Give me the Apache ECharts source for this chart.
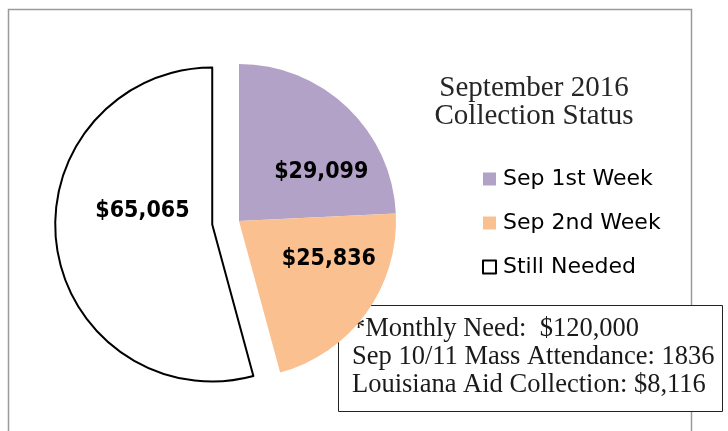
<!DOCTYPE html>
<html>
<head>
<meta charset="utf-8">
<script src="https://cdn.jsdelivr.net/npm/echarts@6/dist/echarts.min.js"></script>
<style>
  html, body { margin: 0; padding: 0; background: #fff; }
  #chart { width: 728px; height: 431px; }
</style>
</head>
<body>
<div id="chart"></div>
<script>
// chart values
const categories = ['Sep 1st Week', 'Sep 2nd Week', 'Still Needed'];
const amounts = [29099, 25836, 65065];
const titleLines = ['September 2016', 'Collection Status'];
const noteLines = [
    '*Monthly Need:  $120,000',
    'Sep 10/11 Mass Attendance: 1836',
    'Louisiana Aid Collection: $8,116'
];

const sliceColors = ['#B3A2C7', '#FAC090', '#FFFFFF'];
// nudges to put labels where Excel put them
const labelNudge = [[26, 10], [24, -10], [11, -24]];

const chart = echarts.init(document.getElementById('chart'));

const pieData = categories.map((name, i) => {
    const item = {
        name: name,
        value: amounts[i],
        itemStyle: { color: sliceColors[i] },
        label: { offset: labelNudge[i] },
        select: { label: { offset: labelNudge[i] } }
    };
    if (i === 2) {
        item.selected = true;
        item.itemStyle.borderColor = '#000';
        item.itemStyle.borderWidth = 2;
    }
    return item;
});

const option = {
    animation: false,
    backgroundColor: '#fff',
    title: {
        text: titleLines.join('\n'),
        left: 529,
        top: 69,
        textAlign: 'center',
        textStyle: {
            fontFamily: '"Liberation Serif", "Times New Roman", serif',
            fontSize: 29,
            fontWeight: 'normal',
            color: '#262626',
            lineHeight: 28
        }
    },
    legend: {
        orient: 'vertical',
        left: 477,
        top: 163,
        itemWidth: 13,
        itemHeight: 13,
        itemGap: 22,
        icon: 'rect',
        selectedMode: false,
        data: categories.map((name, i) => ({
            name: name,
            itemStyle: i === 2
                ? { color: '#fff', borderColor: '#000', borderWidth: 2 }
                : { color: sliceColors[i], borderWidth: 0 }
        })),
        textStyle: {
            fontFamily: '"DejaVu Sans", sans-serif',
            fontSize: 22,
            color: '#000',
            padding: [0, 0, 0, 2]
        }
    },
    series: [{
        type: 'pie',
        center: [239, 221],
        radius: 157,
        startAngle: 90,
        clockwise: true,
        selectedMode: 'single',
        selectedOffset: 27,
        silent: true,
        label: {
            show: true,
            position: 'inside',
            formatter: p => '$' + p.value.toLocaleString('en-US'),
            fontFamily: '"DejaVu Sans Condensed", "Liberation Sans Narrow", sans-serif',
            fontWeight: 'bold',
            fontSize: 23,
            color: '#000'
        },
        labelLine: { show: false },
        emphasis: { disabled: true },
        data: pieData
    }],
    graphic: [
        {
            type: 'rect',
            z: 0,
            shape: { x: 8.5, y: 9.5, width: 683, height: 480 },
            style: { fill: 'none', stroke: '#9a9a9a', lineWidth: 1.5 }
        },
        {
            type: 'group',
            z: 100,
            children: [
                {
                    type: 'rect',
                    shape: { x: 338.5, y: 305.5, width: 384, height: 106 },
                    style: { fill: '#fff', stroke: '#222', lineWidth: 1 }
                },
                {
                    type: 'text',
                    x: 352,
                    y: 315,
                    style: {
                        text: noteLines.join('\n'),
                        font: '26.5px "Liberation Serif", "Times New Roman", serif',
                        lineHeight: 28,
                        fill: '#1a1a1a'
                    }
                }
            ]
        }
    ]
};

chart.setOption(option);
window.addEventListener('resize', () => chart.resize());
</script>
</body>
</html>
